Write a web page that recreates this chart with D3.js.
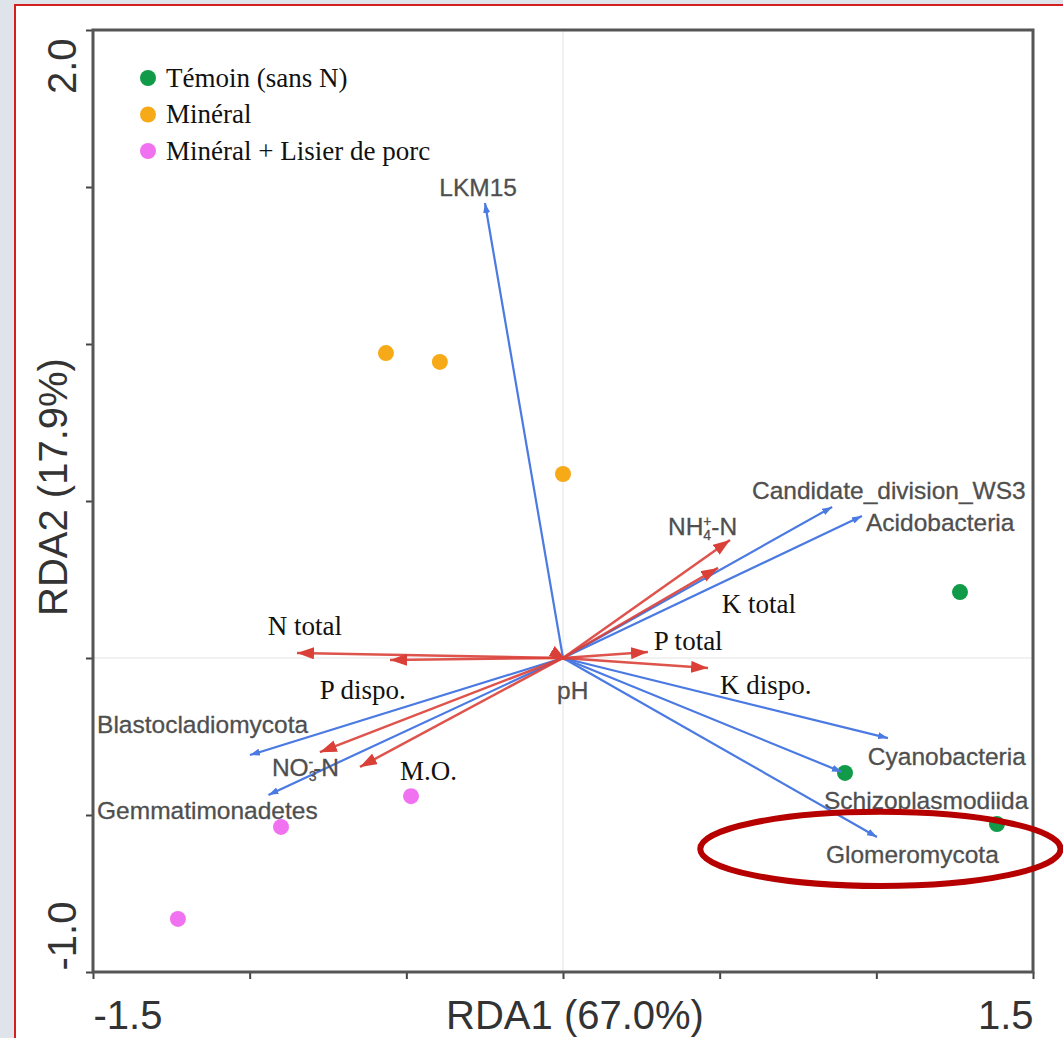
<!DOCTYPE html>
<html>
<head>
<meta charset="utf-8">
<script src="https://cdn.jsdelivr.net/npm/d3@7"></script>
<style>
  html, body { margin: 0; padding: 0; background: #dfe3ea; }
  #chart { width: 1063px; height: 1038px; }
</style>
</head>
<body>
<div id="chart"></div>
<script>
// Treatment groups (legend)
const groups = ["Témoin (sans N)", "Minéral", "Minéral + Lisier de porc"];

// Site scores
const siteGroup = [0, 0, 0, 1, 1, 1, 2, 2, 2];
const siteRDA1 = [1.267, 0.90, 1.385, -0.565, -0.393, 0.0, -0.485, -0.90, -1.229];
const siteRDA2 = [0.21, -0.366, -0.529, 0.971, 0.943, 0.586, -0.44, -0.538, -0.831];

// Species (blue arrows)
const speciesNames = ["LKM15", "Candidate_division_WS3", "Acidobacteria", "Cyanobacteria",
    "Schizoplasmodiida", "Glomeromycota", "Blastocladiomycota", "Gemmatimonadetes"];
const speciesRDA1 = [-0.249, 0.859, 0.954, 1.037, 0.89, 1.002, -0.999, -0.94];
const speciesRDA2 = [1.449, 0.481, 0.452, -0.255, -0.363, -0.57, -0.309, -0.436];

// Environmental variables (red arrows)
const envNames = ["NH4-N", "K total", "P total", "K dispo.", "N total", "P dispo.", "NO3-N", "M.O.", "pH"];
const envRDA1 = [0.533, 0.495, 0.271, 0.463, -0.849, -0.552, -0.776, -0.648, 0.01];
const envRDA2 = [0.376, 0.287, 0.019, -0.032, 0.016, -0.006, -0.3, -0.347, -0.006];

// Axes
const xTicks = [-1.5, -1.0, -0.5, 0, 0.5, 1.0, 1.5];
const yTicks = [-1.0, -0.5, 0, 0.5, 1.0, 1.5, 2.0];
const xTitle = "RDA1 (67.0%)";
const yTitle = "RDA2 (17.9%)";

try {
    const width = 1063, height = 1038;
    const groupColors = ["#119a48", "#f6aa18", "#f172f0"];
    const blue = "#4a7ae2", red = "#da4038";
    const sans = "'Liberation Sans', Arial, sans-serif";
    const serif = "'Liberation Serif', 'Times New Roman', serif";
    const fmt = d => d3.format(".1f")(d).replace("\u2212", "-");

    const x = d3.scaleLinear().domain([-1.5, 1.5]).range([93, 1033]);
    const y = d3.scaleLinear().domain([-1, 2]).range([972, 30]);

    const svg = d3.select("#chart").append("svg")
        .attr("width", width)
        .attr("height", height);

    // page frame: white panel with red border
    svg.append("rect").attr("x", 14).attr("y", 5).attr("width", width).attr("height", height)
        .attr("fill", "#fff");
    svg.append("line").attr("x1", 14).attr("x2", width).attr("y1", 5).attr("y2", 5)
        .attr("stroke", "#d21f1f").attr("stroke-width", 2);
    svg.append("line").attr("x1", 15).attr("x2", 15).attr("y1", 5).attr("y2", height)
        .attr("stroke", "#d21f1f").attr("stroke-width", 2);

    const defs = svg.append("defs");
    function marker(id, color, len, wid) {
        defs.append("marker")
            .attr("id", id)
            .attr("viewBox", `0 0 ${len} ${wid}`)
            .attr("refX", len).attr("refY", wid / 2)
            .attr("markerUnits", "userSpaceOnUse")
            .attr("markerWidth", len).attr("markerHeight", wid)
            .attr("orient", "auto")
            .append("path")
            .attr("d", `M0,0L${len},${wid / 2}L0,${wid}Z`)
            .attr("fill", color);
    }
    marker("headBlue", blue, 10, 7);
    marker("headRed", red, 17, 12);

    // zero lines
    svg.append("line").attr("x1", x(0)).attr("x2", x(0)).attr("y1", y(2)).attr("y2", y(-1))
        .attr("stroke", "#ececec").attr("stroke-width", 1.5);
    svg.append("line").attr("x1", x(-1.5)).attr("x2", x(1.5)).attr("y1", y(0)).attr("y2", y(0))
        .attr("stroke", "#ececec").attr("stroke-width", 1.5);

    // axes
    const xAxis = svg.append("g")
        .attr("transform", `translate(0,${y(-1)})`)
        .call(d3.axisBottom(x).tickValues(xTicks).tickSize(7).tickSizeOuter(0).tickPadding(22)
            .tickFormat(d => (d === -1.5 || d === 1.5) ? fmt(d) : ""));
    xAxis.select(".domain").remove();
    xAxis.selectAll(".tick line").attr("stroke", "#444").attr("stroke-width", 2);
    xAxis.selectAll(".tick text")
        .style("font-family", sans).style("font-size", "40px").attr("fill", "#333")
        .attr("text-anchor", d => d < 0 ? "start" : "end");

    const yAxis = svg.append("g")
        .attr("transform", `translate(${x(-1.5)},0)`)
        .call(d3.axisLeft(y).tickValues(yTicks).tickSize(7).tickSizeOuter(0)
            .tickFormat(d => (d === -1 || d === 2) ? fmt(d) : ""));
    yAxis.select(".domain").remove();
    yAxis.selectAll(".tick line").attr("stroke", "#444").attr("stroke-width", 2);
    yAxis.selectAll(".tick text")
        .style("font-family", sans).style("font-size", "40px").attr("fill", "#333")
        .attr("transform", "rotate(-90)")
        .attr("x", d => d < 0 ? 2 : -8)
        .attr("y", -17)
        .attr("dy", 0)
        .attr("text-anchor", d => d < 0 ? "start" : "end");

    // plot box
    svg.append("rect")
        .attr("x", x(-1.5)).attr("y", y(2))
        .attr("width", x(1.5) - x(-1.5)).attr("height", y(-1) - y(2))
        .attr("fill", "none").attr("stroke", "#555").attr("stroke-width", 3);

    svg.append("text")
        .attr("x", 575).attr("y", 1029)
        .attr("text-anchor", "middle")
        .style("font-family", sans).style("font-size", "40px").attr("fill", "#333")
        .text(xTitle);
    svg.append("text")
        .attr("transform", `translate(67,${(y(2) + y(-1)) / 2 - 14}) rotate(-90)`)
        .attr("text-anchor", "middle")
        .style("font-family", sans).style("font-size", "40px").attr("fill", "#333")
        .text(yTitle);

    // species labels (grey sans)
    const speciesLabelPos = [
        [-0.271, 1.50, "middle"], [0.603, 0.535, "start"], [0.967, 0.433, "start"],
        [0.973, -0.315, "start"], [0.833, -0.452, "start"], [0.839, -0.624, "start"],
        [-1.487, -0.21, "start"], [-1.487, -0.484, "start"]
    ];
    svg.append("g").selectAll("text")
        .data(speciesNames)
        .enter().append("text")
        .attr("x", (d, i) => x(speciesLabelPos[i][0]))
        .attr("y", (d, i) => y(speciesLabelPos[i][1]))
        .attr("dy", "0.35em")
        .attr("text-anchor", (d, i) => speciesLabelPos[i][2])
        .style("font-family", sans).style("font-size", "24.5px").attr("fill", "#4f4f4f")
        .attr("stroke", "#4f4f4f").attr("stroke-width", 0.3)
        .text(d => d);

    // site points
    svg.append("g").selectAll("circle")
        .data(siteRDA1)
        .enter().append("circle")
        .attr("cx", d => x(d))
        .attr("cy", (d, i) => y(siteRDA2[i]))
        .attr("r", 8)
        .attr("fill", (d, i) => groupColors[siteGroup[i]]);

    // species arrows
    svg.append("g").selectAll("line")
        .data(speciesRDA1)
        .enter().append("line")
        .attr("x1", x(0)).attr("y1", y(0))
        .attr("x2", d => x(d))
        .attr("y2", (d, i) => y(speciesRDA2[i]))
        .attr("stroke", blue).attr("stroke-width", 2.2)
        .attr("marker-end", "url(#headBlue)");

    // environmental arrows
    svg.append("g").selectAll("line")
        .data(envRDA1)
        .enter().append("line")
        .attr("x1", x(0)).attr("y1", y(0))
        .attr("x2", d => x(d))
        .attr("y2", (d, i) => y(envRDA2[i]))
        .attr("stroke", red).attr("stroke-width", 2.5)
        .attr("stroke-opacity", 0.9)
        .attr("marker-end", "url(#headRed)");

    // environmental labels
    const envLabelPos = [
        [0.335, 0.42], [0.507, 0.175], [0.29, 0.054], [0.501, -0.083], [-0.942, 0.102],
        [-0.776, -0.099], [-0.929, -0.35], [-0.52, -0.357], [-0.019, -0.102]
    ];
    const chemLabel = { "NH4-N": ["NH", "4", "+"], "NO3-N": ["NO", "3", "-"] };
    const isSans = d => chemLabel[d] || d === "pH";
    const envText = svg.append("g").selectAll("text")
        .data(envNames)
        .enter().append("text")
        .attr("x", (d, i) => x(envLabelPos[i][0]))
        .attr("y", (d, i) => y(envLabelPos[i][1]))
        .attr("dy", "0.35em")
        .style("font-family", d => isSans(d) ? sans : serif)
        .style("font-size", d => isSans(d) ? "24.5px" : "27px")
        .attr("fill", d => isSans(d) ? "#4f4f4f" : "#111")
        .attr("stroke", d => isSans(d) ? "#4f4f4f" : "none")
        .attr("stroke-width", 0.3);
    envText.each(function(d) {
        const t = d3.select(this);
        const c = chemLabel[d];
        if (!c) { t.text(d); return; }
        t.append("tspan").text(c[0]);
        t.append("tspan").attr("dy", 5).style("font-size", "14px").text(c[1]);
        t.append("tspan").attr("dx", -8).attr("dy", -14).style("font-size", "14px").text(c[2]);
        t.append("tspan").attr("dy", 9).text("-N");
    });

    // legend
    const legend = svg.append("g").attr("transform", "translate(148,78)");
    const li = legend.selectAll("g")
        .data(groups)
        .enter().append("g")
        .attr("transform", (d, i) => `translate(0,${i * 36.5})`);
    li.append("circle").attr("r", 8).attr("fill", (d, i) => groupColors[i]);
    li.append("text")
        .attr("x", 18).attr("dy", "0.33em")
        .style("font-family", serif).style("font-size", "27px").attr("fill", "#111")
        .text(d => d);

    // annotation ellipse around Glomeromycota
    svg.append("ellipse")
        .attr("cx", x(1.013)).attr("cy", y(-0.608))
        .attr("rx", x(1.013) - x(0.438)).attr("ry", y(-0.608) - y(-0.49))
        .attr("fill", "none").attr("stroke", "#b60000").attr("stroke-width", 6);

} catch (error) {
    console.error('Error rendering chart:', error);
    document.getElementById('chart').innerHTML = `<p style="color:red">${error.message}</p>`;
}
</script>
</body>
</html>
